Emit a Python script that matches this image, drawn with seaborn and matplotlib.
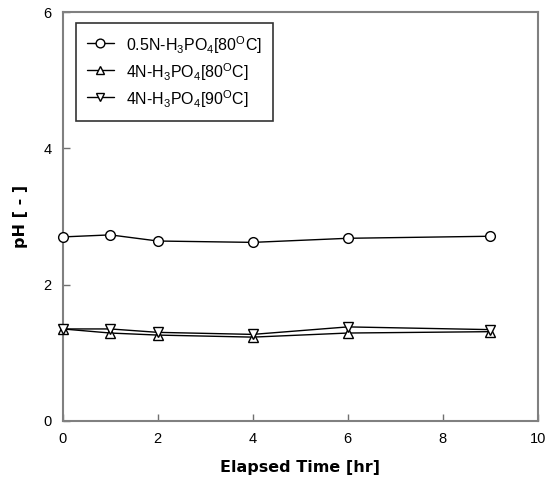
import matplotlib
matplotlib.use("Agg")
import matplotlib.pyplot as plt
import seaborn as sns
import pandas as pd

time_hr = [0, 1, 2, 4, 6, 9]
ph_05n_80 = [2.70, 2.73, 2.64, 2.62, 2.68, 2.71]
ph_4n_80 = [1.35, 1.29, 1.26, 1.23, 1.29, 1.31]
ph_4n_90 = [1.35, 1.35, 1.30, 1.27, 1.38, 1.34]
labels = ["0.5N-H$_3$PO$_4$[80$^\\mathrm{O}$C]",
          "4N-H$_3$PO$_4$[80$^\\mathrm{O}$C]",
          "4N-H$_3$PO$_4$[90$^\\mathrm{O}$C]"]
markers = ["o", "^", "v"]

sns.set_style("white")
plt.rcParams['font.family'] = ['Liberation Sans', 'DejaVu Sans']
plt.rcParams['mathtext.fontset'] = 'custom'
plt.rcParams['mathtext.rm'] = 'Liberation Sans'
plt.rcParams['mathtext.it'] = 'Liberation Sans'
plt.rcParams['text.color'] = 'black'
plt.rcParams['axes.labelcolor'] = 'black'
plt.rcParams['xtick.color'] = 'black'
plt.rcParams['ytick.color'] = 'black'

df = pd.concat([
    pd.DataFrame({"t": time_hr, "ph": v, "s": lab})
    for v, lab in zip([ph_05n_80, ph_4n_80, ph_4n_90], labels)
])

fig = plt.figure(figsize=(5.46, 4.8), dpi=100)
ax = fig.add_axes([0.115, 0.123, 0.870, 0.852])
for lab, m in zip(labels, markers):
    sub = df[df["s"] == lab]
    sns.lineplot(data=sub, x="t", y="ph", ax=ax, color="black", lw=1,
                 marker=m, markersize=7, markerfacecolor="white",
                 markeredgecolor="black", markeredgewidth=1, label=lab,
                 clip_on=False, zorder=3)

ax.set_xlim(0, 10)
ax.set_ylim(0, 6)
ax.set_xticks([0, 2, 4, 6, 8, 10])
ax.set_yticks([0, 2, 4, 6])
ax.tick_params(direction="in", length=5, width=1, color="#707070",
               labelcolor="black", labelsize=10.5, pad=8,
               bottom=True, left=True)
for sp in ax.spines.values():
    sp.set_color("#808080")
    sp.set_linewidth(1.5)
ax.set_xlabel("Elapsed Time [hr]", fontsize=11.5, family="DejaVu Sans",
              fontweight="bold", labelpad=10, color="black")
ax.set_ylabel("pH [ - ]", fontsize=11.5, family="DejaVu Sans",
              fontweight="bold", labelpad=11, color="black")

leg = ax.legend(loc="upper left", bbox_to_anchor=(0.027, 0.973),
                borderaxespad=0, frameon=True, fancybox=False,
                edgecolor="black", fontsize=11.5, handlelength=1.7,
                handleheight=1.6, handletextpad=0.75, borderpad=0.7,
                labelspacing=0.32, markerscale=0.9)
leg.get_frame().set_linewidth(1.2)
for t in leg.get_texts():
    t.set_color("black")

fig.savefig("out.png", dpi=100)
